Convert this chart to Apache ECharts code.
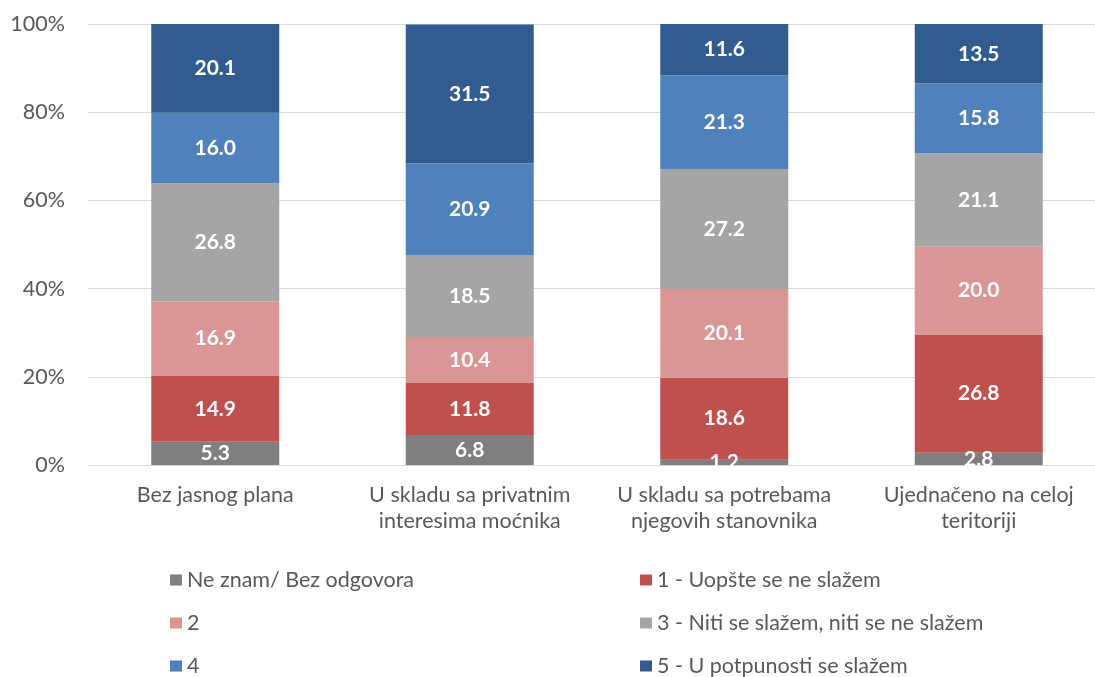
<!DOCTYPE html>
<html><head><meta charset="utf-8">
<script src="https://cdn.jsdelivr.net/npm/echarts@6/dist/echarts.min.js"></script>
<style>html,body{margin:0;padding:0;background:#fff}#c{width:1095px;height:677px}</style>
</head><body><div id="c"></div>
<script>
const categories = ['Bez jasnog plana', 'U skladu sa privatnim\ninteresima moćnika', 'U skladu sa potrebama\nnjegovih stanovnika', 'Ujednačeno na celoj\nteritoriji'];
const seriesNames = ['Ne znam/ Bez odgovora', '1 - Uopšte se ne slažem', '2', '3 - Niti se slažem, niti se ne slažem', '4', '5 - U potpunosti se slažem'];
const neZnam = [5.3, 6.8, 1.2, 2.8];
const s1 = [14.9, 11.8, 18.6, 26.8];
const s2 = [16.9, 10.4, 20.1, 20.0];
const s3 = [26.8, 18.5, 27.2, 21.1];
const s4 = [16.0, 20.9, 21.3, 15.8];
const s5 = [20.1, 31.5, 11.6, 13.5];
const yTicks = ['0%', '20%', '40%', '60%', '80%', '100%'];
const colors = ['#7f7f7f', '#c0504d', '#da9694', '#a5a5a5', '#4f81bd', '#325c8f'];
const values = [neZnam, s1, s2, s3, s4, s5];

const font = 'Lato, "Open Sans", sans-serif';
const chart = echarts.init(document.getElementById('c'));
const legendText = { color: '#595959', fontSize: 21.5, lineHeight: 22, fontFamily: font };
// legend placement: two columns, three rows
const legendLefts = [170, 640];
const legendTops = [569, 612, 655];
const legends = seriesNames.map((n, i) => ({
  data: [n], orient: 'horizontal', left: legendLefts[i % 2], top: legendTops[Math.floor(i / 2)],
  padding: 0, itemWidth: 12, itemHeight: 11, icon: 'rect', textStyle: legendText
}));
chart.setOption({
  animation: false,
  color: colors,
  textStyle: { fontFamily: font },
  grid: { left: 88, top: 24, width: 1018, height: 441, outerBoundsMode: 'none', containLabel: false },
  xAxis: {
    type: 'category', data: categories,
    axisTick: { show: false },
    axisLine: { lineStyle: { color: '#d9d9d9' } },
    axisLabel: { color: '#595959', fontSize: 21.5, lineHeight: 26, margin: 17, fontFamily: font, interval: 0 }
  },
  yAxis: {
    type: 'value', min: 0, max: 100, interval: 20,
    axisLabel: { color: '#595959', fontSize: 21.5, margin: 23, fontFamily: font,
      formatter: v => yTicks[Math.round(v / 20)] },
    splitLine: { lineStyle: { color: '#d9d9d9' } },
    axisLine: { show: false }, axisTick: { show: false }
  },
  legend: legends,
  series: seriesNames.map((n, i) => ({
    name: n, type: 'bar', stack: 'a', barWidth: 128, data: values[i],
    label: { show: true, position: 'inside', color: '#fff', fontWeight: 'bold', fontSize: 21, fontFamily: font,
      formatter: p => p.value.toFixed(1) }
  }))
});
</script></body></html>
